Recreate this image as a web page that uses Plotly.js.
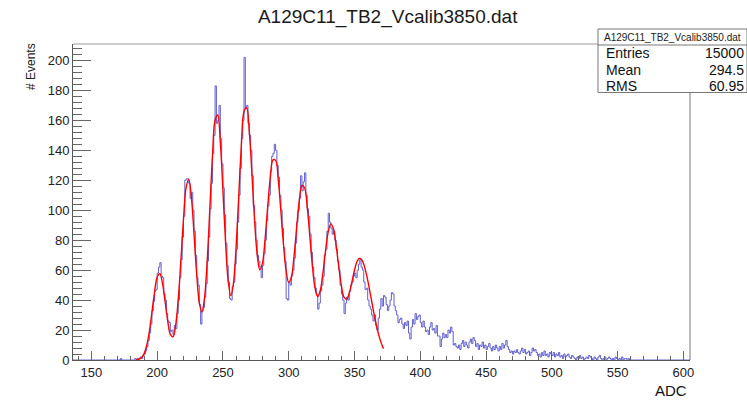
<!DOCTYPE html>
<html>
<head>
<meta charset="utf-8">
<script src="https://cdn.plot.ly/plotly-3.0.1.min.js"></script>
<style>
html,body{margin:0;padding:0;background:#fff;}
#chart{width:747px;height:401px;}
</style>
</head>
<body>
<div id="chart"></div>
<script>
// ---- data ----
const histTitle = "A129C11_TB2_Vcalib3850.dat";
const binLow = 135;      // lower edge of first bin (ADC)
const binWidth = 1;      // ADC per bin
const counts = [
0,0,0,0,0,0,0,0,0,0,
0,0,0,0,0,0,0,0,0,0,
0,0,0,0,0,0,0,0,0,0,
0,0,0,0,0,0,0,1,0,0,
0,0,0,0,0,0,0,0,1,0,
1,1,2,1,3,4,6,9,13,18,
24,33,39,46,47,58,62,65,56,55,
44,40,31,26,25,19,20,17,23,21,
31,40,55,67,82,96,120,121,121,118,
108,112,100,86,70,55,50,37,24,33,
35,42,51,66,82,101,118,138,150,183,
158,160,170,148,131,115,97,78,63,52,
41,40,49,52,64,74,92,110,128,148,
160,202,168,170,158,150,140,123,103,92,
80,70,66,62,55,63,71,80,93,103,
110,126,136,138,144,140,130,122,110,100,
88,75,66,41,40,52,50,56,60,68,
78,92,100,108,123,113,119,125,110,101,
96,84,72,62,55,48,44,34,38,46,
50,56,70,74,86,98,92,88,84,86,
80,74,66,60,50,44,40,31,38,42,
40,46,50,52,56,58,55,60,64,67,
62,60,52,47,48,40,36,34,30,26,
30,23,20,28,34,41,36,43,42,37,
33,36,40,45,44,36,33,30,25,27,
28,24,21,25,23,26,18,14,22,27,
24,31,27,29,30,25,22,26,22,19,
20,17,22,25,20,21,18,23,16,16,
9,14,18,15,17,15,20,18,22,19,
10,11,9,8,10,7,11,13,9,12,
10,8,12,14,11,15,13,9,11,7,
10,9,12,8,10,7,9,11,8,6,
9,7,10,8,6,9,7,11,8,10,
13,9,7,5,6,4,6,5,7,5,
4,6,8,5,7,4,5,6,3,5,
8,6,7,5,3,4,2,5,3,6,
3,4,2,5,4,3,5,2,4,3,
5,2,3,1,4,2,3,4,2,1,
3,2,1,0,2,1,3,1,2,0,
1,2,1,3,2,1,0,2,1,0,
2,3,1,0,1,2,0,1,2,1,
0,1,0,2,1,0,1,0,2,0,
1,1,0,1,0,0,0,0,0,0,
0,0,0,0,0,0,0,0,0,0,
0,0,0,0,0,0,0,0,0,0,
0,0,0,0,0,0,0,0,0,0,
0,0,0,0,0,0,0,0,0,0
];

// fitted curve (red)
const fitX = [
184,186,188,190,192,194,196,198,200,202,
204,206,208,210,212,214,216,218,220,222,
224,226,228,230,232,234,236,238,240,242,
244,246,248,250,252,254,256,258,260,262,
264,266,268,270,272,274,276,278,280,282,
284,286,288,290,292,294,296,298,300,302,
304,306,308,310,312,314,316,318,320,322,
324,326,328,330,332,334,336,338,340,342,
344,346,348,350,352,354,356,358,360,362,
364,366,368,370,372
];
const fitY = [
0.2,0.5,1.5,4.1,9.5,18.8,31.7,45.4,55.4,57.7,
51.3,39.0,26.0,17.1,15.5,23.1,40.7,66.4,94.3,115.2,
120.6,108.5,84.2,57.7,38.3,32.1,41.7,66.1,100.8,135.9,
160.1,163.6,145.3,112.7,77.9,52.4,42.9,51.4,75.6,109.6,
143.5,166.0,168.4,152.8,124.4,93.7,70.4,60.3,64.7,80.6,
102.4,122.0,133.6,133.3,120.5,99.5,77.1,59.6,51.8,55.4,
69.2,88.4,106.3,116.5,115.0,102.5,82.9,62.6,47.9,42.3,
46.6,58.4,73.2,85.6,90.9,87.5,76.7,62.5,49.7,42.0,
40.6,44.6,52.1,60.1,66.0,68.0,66.2,61.0,53.3,44.1,
34.6,25.7,18.1,12.1,7.6
];

const statLabels = ["Entries", "Mean", "RMS"];
const statValues = ["15000", "294.5", "60.95"];
const xTitle = "ADC";
const yTitle = "# Events";
// -----------------------------------------------

// histogram outline as steps (bin edges)
const edges = counts.map((c, i) => binLow + i * binWidth);
const stepX = edges.concat([binLow + counts.length * binWidth]);
const stepY = counts.concat([counts[counts.length - 1]]);

const W = 747, H = 401;
const M = {l: 73, r: 57, t: 44, b: 41};
const PW = W - M.l - M.r, PH = H - M.t - M.b;
const px = x => (x - M.l) / PW;
const py = y => (H - M.b - y) / PH;

const font = "Liberation Sans, Arial, Helvetica, sans-serif";

const traces = [
  {
    x: stepX, y: stepY, type: 'scatter', mode: 'lines',
    line: {shape: 'hv', color: 'rgb(95,95,210)', width: 1},
    hoverinfo: 'skip', showlegend: false
  },
  {
    x: fitX, y: fitY, type: 'scatter', mode: 'lines',
    line: {shape: 'spline', smoothing: 1, color: 'rgb(255,0,0)', width: 1.4},
    hoverinfo: 'skip', showlegend: false
  }
];

const annotations = [
  {text: histTitle, xref: 'paper', yref: 'paper', x: px(672), y: py(37),
   xanchor: 'center', yanchor: 'middle', showarrow: false,
   font: {family: font, size: 10, color: '#222'}},
  {text: yTitle, xref: 'paper', yref: 'paper', x: px(31), y: py(67),
   xanchor: 'center', yanchor: 'middle', showarrow: false, textangle: -90,
   font: {family: font, size: 12, color: '#222'}},
  {text: xTitle, xref: 'paper', yref: 'paper', x: px(671), y: py(390),
   xanchor: 'center', yanchor: 'middle', showarrow: false,
   font: {family: font, size: 15, color: '#111'}}
];
const rowY = [52.5, 69.5, 85.5];
statLabels.forEach((lab, i) => {
  annotations.push({text: lab, xref: 'paper', yref: 'paper', x: px(604), y: py(rowY[i]),
    xanchor: 'left', yanchor: 'middle', showarrow: false,
    font: {family: font, size: 14, color: '#111'}});
  annotations.push({text: statValues[i], xref: 'paper', yref: 'paper', x: px(746), y: py(rowY[i]),
    xanchor: 'right', yanchor: 'middle', showarrow: false,
    font: {family: font, size: 14, color: '#111'}});
});

const shapes = [
  // frame (top and right)
  {type: 'line', xref: 'paper', yref: 'paper', x0: 0, x1: 1, y0: 1, y1: 1,
   line: {color: '#9a9a9a', width: 1}},
  {type: 'line', xref: 'paper', yref: 'paper', x0: 1, x1: 1, y0: 0, y1: 1,
   line: {color: '#777', width: 1}},
  // stats box
  {type: 'rect', xref: 'paper', yref: 'paper', x0: px(598), x1: px(747), y0: py(92.5), y1: py(29),
   line: {color: '#777', width: 1}, fillcolor: '#fff', layer: 'above'},
  {type: 'line', xref: 'paper', yref: 'paper', x0: px(598), x1: px(747), y0: py(45), y1: py(45),
   line: {color: '#777', width: 1}, layer: 'above'}
];

const layout = {
  width: W, height: H,
  margin: {l: M.l, r: M.r, t: M.t, b: M.b, pad: 0},
  paper_bgcolor: '#fff', plot_bgcolor: '#fff',
  title: {text: histTitle, x: 381 / W, xanchor: 'center', xref: 'paper',
          y: 1 - 16 / H, yanchor: 'middle', yref: 'container',
          font: {family: font, size: 19, color: '#1a1a1a'}},
  xaxis: {
    range: [136, 605], showgrid: false, zeroline: false,
    showline: true, linecolor: '#555', linewidth: 1,
    ticks: 'inside', ticklen: 9, tickcolor: '#666', tickwidth: 1,
    tick0: 0, dtick: 50,
    minor: {ticks: 'inside', ticklen: 4.5, tickcolor: '#666', dtick: 10, tick0: 0, showgrid: false},
    tickfont: {family: font, size: 13, color: '#222'}
  },
  yaxis: {
    range: [0, 211], showgrid: false, zeroline: false,
    showline: true, linecolor: '#555', linewidth: 1,
    ticks: 'inside', ticklen: 18, tickcolor: '#666', tickwidth: 1,
    tick0: 0, dtick: 20,
    minor: {ticks: 'inside', ticklen: 9, tickcolor: '#666', dtick: 4, tick0: 0, showgrid: false},
    tickfont: {family: font, size: 13, color: '#222'}
  },
  annotations: annotations,
  shapes: shapes,
  showlegend: false
};

Plotly.newPlot('chart', traces, layout, {staticPlot: true, displayModeBar: false});
</script>
</body>
</html>
